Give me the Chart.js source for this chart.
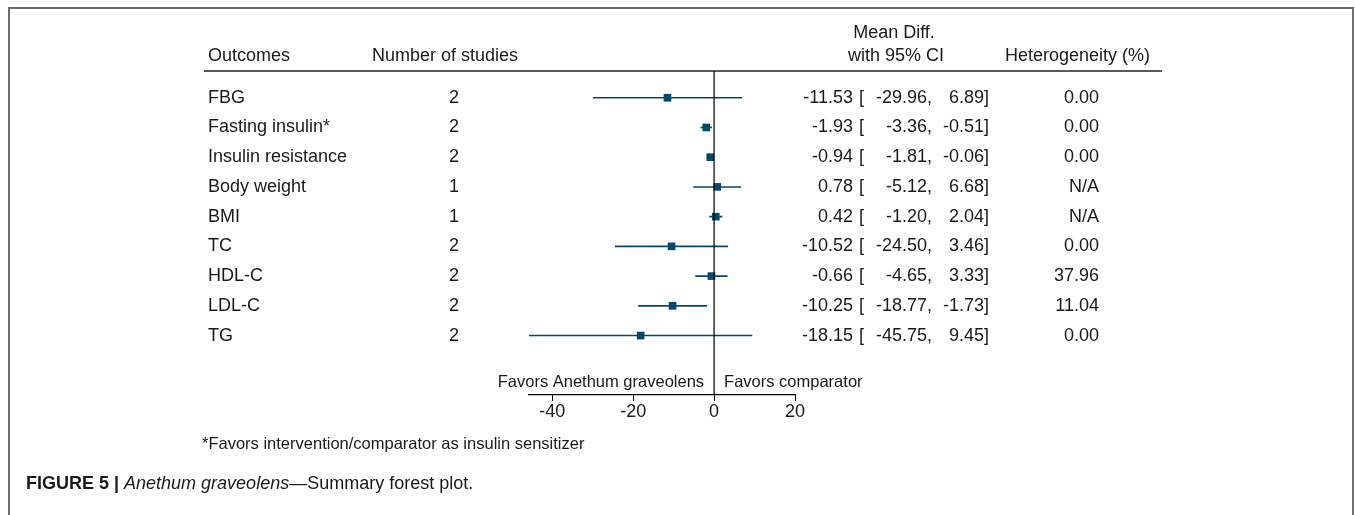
<!DOCTYPE html>
<html>
<head>
<meta charset="utf-8">
<script src="https://cdn.jsdelivr.net/npm/chart.js@4"></script>
<style>
  body { margin: 0; background: #fff; }
</style>
</head>
<body>
<canvas id="forest" width="1355" height="515"></canvas>
<script>
const outcomes = ["FBG", "Fasting insulin*", "Insulin resistance", "Body weight", "BMI",
  "TC", "HDL-C", "LDL-C", "TG"];
const nStudies = [2, 2, 2, 1, 1, 2, 2, 2, 2];
const meanDiff = [-11.53, -1.93, -0.94, 0.78, 0.42, -10.52, -0.66, -10.25, -18.15];
const ciLow = [-29.96, -3.36, -1.81, -5.12, -1.20, -24.50, -4.65, -18.77, -45.75];
const ciHigh = [6.89, -0.51, -0.06, 6.68, 2.04, 3.46, 3.33, -1.73, 9.45];
const heterogeneity = ["0.00", "0.00", "0.00", "N/A", "N/A", "0.00", "37.96", "11.04", "0.00"];
const tickValues = [-40, -20, 0, 20];

const FONT = '"Liberation Sans", Arial, sans-serif';
const markColor = "#08476c";

// CI segments, broken by nulls so each row is its own line
const ciPoints = [];
outcomes.forEach((o, i) => {
  ciPoints.push({x: ciLow[i], y: i}, {x: ciHigh[i], y: i}, {x: null, y: null});
});

const tablePlugin = {
  id: "table",
  afterDraw(chart) {
    const ctx = chart.ctx;
    const y = chart.scales.y;
    const area = chart.chartArea;
    ctx.save();

    // frame of the figure box
    ctx.strokeStyle = "#6e6e6e";
    ctx.lineWidth = 2;
    ctx.beginPath();
    ctx.moveTo(9, 515); ctx.lineTo(9, 8); ctx.lineTo(1353, 8); ctx.lineTo(1353, 515);
    ctx.stroke();

    // header rule
    ctx.strokeStyle = "#222";
    ctx.lineWidth = 1.5;
    ctx.beginPath();
    ctx.moveTo(204, area.top); ctx.lineTo(1162, area.top);
    ctx.stroke();

    ctx.fillStyle = "#1a1a1a";
    ctx.textBaseline = "middle";
    ctx.font = "18px " + FONT;

    ctx.textAlign = "left";
    ctx.fillText("Outcomes", 208, 56);
    ctx.fillText("Number of studies", 372, 56);
    ctx.fillText("Heterogeneity (%)", 1005, 56);
    ctx.textAlign = "center";
    ctx.fillText("Mean Diff.", 894, 33);
    ctx.fillText("with 95% CI", 896, 56);

    outcomes.forEach((o, i) => {
      const py = y.getPixelForValue(i);
      ctx.textAlign = "left";
      ctx.fillText(o, 208, py);
      ctx.textAlign = "center";
      ctx.fillText(String(nStudies[i]), 454, py);
      ctx.textAlign = "right";
      ctx.fillText(meanDiff[i].toFixed(2), 853, py);
      ctx.textAlign = "left";
      ctx.fillText("[", 859, py);
      ctx.textAlign = "right";
      ctx.fillText(ciLow[i].toFixed(2) + ",", 932, py);
      ctx.fillText(ciHigh[i].toFixed(2) + "]", 989, py);
      ctx.fillText(heterogeneity[i], 1099, py);
    });

    // direction labels
    const x0 = chart.scales.x.getPixelForValue(0);
    ctx.font = "16.5px " + FONT;
    ctx.textAlign = "right";
    ctx.fillText("Favors Anethum graveolens", x0 - 10, 382);
    ctx.textAlign = "left";
    ctx.fillText("Favors comparator", x0 + 10, 382);

    ctx.fillText("*Favors intervention/comparator as insulin sensitizer", 202, 444);

    // caption
    let cx = 26;
    ctx.font = "bold 18px " + FONT;
    ctx.fillText("FIGURE 5 |", cx, 484);
    cx += ctx.measureText("FIGURE 5 | ").width;
    ctx.font = "italic 18px " + FONT;
    ctx.fillText("Anethum graveolens", cx, 484);
    cx += ctx.measureText("Anethum graveolens").width;
    ctx.font = "18px " + FONT;
    ctx.fillText("\u2014Summary forest plot.", cx, 484);

    ctx.restore();
  }
};

new Chart(document.getElementById("forest"), {
  type: "scatter",
  data: {
    datasets: [
      {
        type: "line",
        data: [{x: 0, y: -0.9}, {x: 0, y: 10}],
        borderColor: "#000",
        borderWidth: 1.2,
        pointRadius: 0
      },
      {
        type: "line",
        data: ciPoints,
        borderColor: markColor,
        borderWidth: 1.6,
        pointRadius: 0,
        spanGaps: false
      },
      {
        data: meanDiff.map((v, i) => ({x: v, y: i})),
        pointStyle: "rect",
        pointRadius: 5.4,
        backgroundColor: markColor,
        borderColor: markColor,
        borderWidth: 0
      }
    ]
  },
  options: {
    responsive: false,
    animation: false,
    layout: { padding: { left: 529, right: 560, top: 71, bottom: 90 } },
    plugins: { legend: { display: false }, tooltip: { enabled: false } },
    scales: {
      x: {
        type: "linear",
        min: -45.75,
        max: 20,
        afterBuildTicks: s => { s.ticks = tickValues.map(v => ({value: v})); },
        afterFit: s => { s.height = 30; },
        grid: { drawOnChartArea: false, drawTicks: true, tickLength: 6, color: "#000" },
        border: { color: "#000", width: 1.2 },
        ticks: { font: { size: 18, family: FONT }, color: "#1a1a1a", padding: 0 }
      },
      y: {
        display: false,
        min: -0.9,
        max: 10,
        reverse: true
      }
    }
  },
  plugins: [tablePlugin]
});
</script>
</body>
</html>
